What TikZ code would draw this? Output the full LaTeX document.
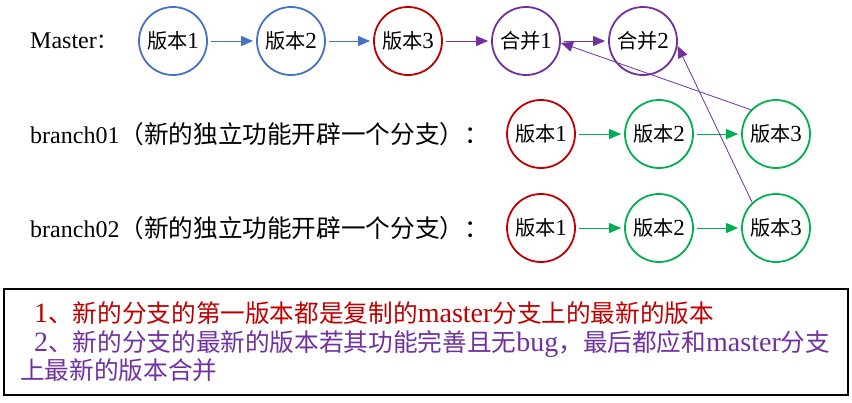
\documentclass[tikz,border=0pt]{standalone}
\usepackage{fontspec}
\setmainfont{Liberation Serif}
\newfontfamily\cjk[Scale=0.88]{Noto Sans CJK SC}
\newcommand\zh[1]{{\cjk #1}}
\newcommand\zhbig[1]{{\fontsize{28}{28}\selectfont\cjk #1}}
\usetikzlibrary{arrows.meta}
\definecolor{verblue}{HTML}{4472C4}
\definecolor{verred}{HTML}{C00000}
\definecolor{verpurple}{HTML}{7030A0}
\definecolor{vergreen}{HTML}{00B050}
\tikzset{
 ver/.style={circle,draw,line width=1.8pt,minimum size=68pt,inner sep=0pt,font=\fontsize{23}{23}\selectfont},
 link/.style={-{Triangle[length=12pt,width=10pt]},line width=1pt,shorten <=3pt,shorten >=3pt},
 merge/.style={-{Triangle[length=12pt,width=10pt]},line width=0.8pt,verpurple},
 lbl/.style={anchor=west,inner sep=0pt,font=\fontsize{24}{24}\selectfont}
}
\begin{document}
\begin{tikzpicture}[x=1pt,y=-1pt]
 \useasboundingbox (0,0) rectangle (852,402);
 \node[lbl] (lmaster) at (30,41) {Master\zh{：}};
 \node[lbl] (lbr1) at (30,134) {branch01\zhbig{（新的独立功能开辟一个分支）：}};
 \node[lbl] (lbr2) at (30,228) {branch02\zhbig{（新的独立功能开辟一个分支）：}};
 \node[ver,verblue] (m1) at (173,41) {\color{black}\zh{版本}1};
 \node[ver,verblue] (m2) at (291,41) {\color{black}\zh{版本}2};
 \node[ver,verred] (m3) at (408,41) {\color{black}\zh{版本}3};
 \node[ver,verpurple] (m4) at (526,41) {\color{black}\zh{合并}1};
 \node[ver,verpurple] (m5) at (643,41) {\color{black}\zh{合并}2};
 \node[ver,verred] (a1) at (541,134) {\color{black}\zh{版本}1};
 \node[ver,vergreen] (a2) at (659,134) {\color{black}\zh{版本}2};
 \node[ver,vergreen] (a3) at (776,134) {\color{black}\zh{版本}3};
 \node[ver,verred] (b1) at (541,228) {\color{black}\zh{版本}1};
 \node[ver,vergreen] (b2) at (659,228) {\color{black}\zh{版本}2};
 \node[ver,vergreen] (b3) at (776,228) {\color{black}\zh{版本}3};
 \draw[link,verblue] (m1) -- (m2);
 \draw[link,verblue] (m2) -- (m3);
 \draw[link,verpurple] (m3) -- (m4);
 \draw[link,verpurple] (m4) -- (m5);
 \draw[link,vergreen] (a1) -- (a2);
 \draw[link,vergreen] (a2) -- (a3);
 \draw[link,vergreen] (b1) -- (b2);
 \draw[link,vergreen] (b2) -- (b3);
 \draw[merge] (a3.136) -- (m4.-3);
 \draw[merge] (b3.133) -- (m5.-8);
 % note box
 \draw[line width=2pt] (4,289) rectangle (848,395);
 \node[anchor=west,align=left,inner sep=0pt,font=\fontsize{28}{28.5}\selectfont] (note) at (20,342)
 {\color{verred}\hspace{14pt}1\zh{、新的分支的第一版本都是复制的}master\zh{分支上的最新的版本}\\
  \color{verpurple}\hspace{14pt}2\zh{、新的分支的最新的版本若其功能完善且无}bug\zh{，最后都应和}master\zh{分支}\\
  \color{verpurple}\zh{上最新的版本合并}};
\end{tikzpicture}
\end{document}
